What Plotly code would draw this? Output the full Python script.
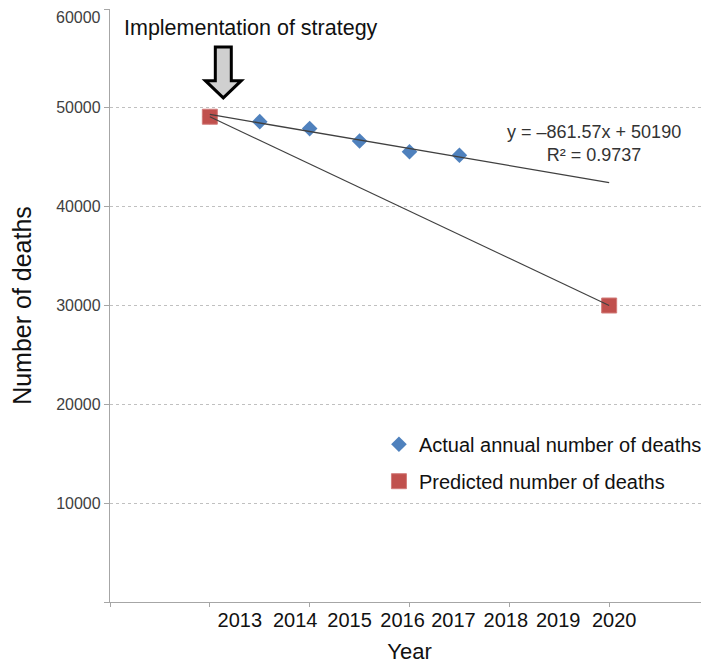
import plotly.graph_objects as go

# ---- data ----
years_actual = [2012, 2013, 2014, 2015, 2016, 2017]
deaths_actual = [49100, 48600, 47900, 46650, 45550, 45200]

years_predicted = [2012, 2020]
deaths_predicted = [49100, 30000]

trend_slope = -861.57
trend_intercept = 50190
trend_r2 = 0.9737
trend_years = [2012, 2020]
trend_x0_year = 2011  # x = 1 for 2012

year_labels = ["2013", "2014", "2015", "2016", "2017", "2018", "2019", "2020"]
y_tick_values = [0, 10000, 20000, 30000, 40000, 50000, 60000]
y_tick_labels = ["", "10000", "20000", "30000", "40000", "50000", "60000"]

# ---- layout helpers ----
year_label_pos = [2012.60, 2013.71, 2014.80, 2015.86, 2016.88, 2017.93, 2018.98, 2020.10]

trend_values = [trend_slope * (y - trend_x0_year) + trend_intercept for y in trend_years]

LINE = "#404040"
BLUE = "#4f81bd"
RED = "#c0504d"
AXIS = "#a6a6a6"
FONT = "Liberation Sans, Arial, sans-serif"

fig = go.Figure()

fig.add_trace(go.Scatter(
    x=years_actual, y=deaths_actual, mode="markers",
    name="Actual annual number of deaths",
    marker=dict(symbol="diamond", size=12, color=BLUE),
    legendgroup="a",
))
fig.add_trace(go.Scatter(
    x=years_predicted, y=deaths_predicted, mode="markers",
    name="Predicted number of deaths",
    marker=dict(symbol="square", size=15, color=RED, line=dict(color="#d27c7a", width=1)),
    legendgroup="b",
))
fig.add_trace(go.Scatter(
    x=trend_years, y=trend_values, mode="lines", showlegend=False,
    line=dict(color=LINE, width=1.3), hoverinfo="skip",
))
fig.add_trace(go.Scatter(
    x=years_predicted, y=deaths_predicted, mode="lines", showlegend=False,
    line=dict(color=LINE, width=1.1), hoverinfo="skip",
))

# block arrow
ax_l, ax_r, ax_hl, ax_hr, ax_tip = 2012.11, 2012.43, 2011.91, 2012.63, 2012.27
ay_top, ay_head, ay_tip = 56150, 52750, 51000
path = (f"M {ax_l},{ay_top} L {ax_r},{ay_top} L {ax_r},{ay_head} L {ax_hr},{ay_head} "
        f"L {ax_tip},{ay_tip} L {ax_hl},{ay_head} L {ax_l},{ay_head} Z")
fig.add_shape(type="path", path=path, xref="x", yref="y",
              fillcolor="#d0d0d0", line=dict(color="black", width=3), layer="above")

fig.add_annotation(x=2010.24, y=58090, xref="x", yref="y", text="Implementation of strategy",
                   showarrow=False, xanchor="left", yanchor="middle",
                   font=dict(family=FONT, size=21.5, color="#111111"))

fig.add_annotation(x=2019.7, y=46400, xref="x", yref="y",
                   text=f"y = \u2013{abs(trend_slope)}x + {trend_intercept}<br>R\u00b2 = {trend_r2}",
                   showarrow=False, xanchor="center", yanchor="middle", align="center",
                   font=dict(family=FONT, size=18, color="#333333"))

# top tick label: placed just below the figure edge so it is not clipped
fig.add_annotation(x=0, xref="paper", y=y_tick_values[-1], yref="y", text=y_tick_labels[-1],
                   showarrow=False, xanchor="right", yanchor="top", xshift=-7, yshift=2,
                   font=dict(family=FONT, size=16, color="#404040"))
axis_tick_text = y_tick_labels[:-1] + [""]

# the page adds an 8px body margin; the figure is sized to fill the rest
fig.update_layout(
    width=701, height=656,
    margin=dict(l=102, r=0, t=1, b=62, autoexpand=False),
    paper_bgcolor="white", plot_bgcolor="white",
    font=dict(family=FONT, color="#222222"),
    legend=dict(x=0.449, y=0.299, xanchor="left", yanchor="top",
                font=dict(family=FONT, size=20, color="#111111"),
                tracegroupgap=8, bgcolor="rgba(0,0,0,0)"),
    xaxis=dict(
        range=[2010, 2022], showgrid=False, zeroline=False, automargin=True,
        showline=True, linecolor=AXIS, linewidth=1.3,
        tickmode="array", tickvals=year_label_pos, ticktext=year_labels,
        ticks="", ticklabelstandoff=0, ticklabeloverflow="allow",
        tickfont=dict(family=FONT, size=20, color="#111111"),
        minor=dict(tickmode="linear", tick0=2010, dtick=2, ticks="outside",
                   ticklen=4, tickcolor=AXIS, showgrid=False),
        title=dict(text="Year", font=dict(family=FONT, size=22, color="#111111"), standoff=15),
    ),
    yaxis=dict(
        range=[0, 60000], zeroline=False, automargin=False,
        showline=True, linecolor=AXIS, linewidth=1.3,
        tickmode="array", tickvals=y_tick_values, ticktext=axis_tick_text,
        ticks="outside", ticklen=5, tickcolor=AXIS, ticklabeloverflow="allow",
        tickfont=dict(family=FONT, size=16, color="#404040"),
        showgrid=True, gridcolor="#c0c0c0", gridwidth=1, griddash="3px,3px",
        title=dict(text="Number of deaths", font=dict(family=FONT, size=25, color="#111111"), standoff=21),
    ),
)

fig.write_html("out.html")
